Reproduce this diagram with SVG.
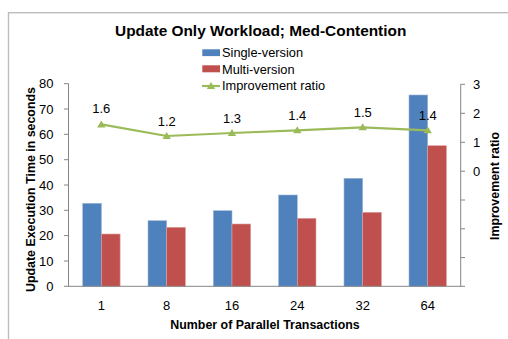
<svg xmlns="http://www.w3.org/2000/svg" width="508" height="339" viewBox="0 0 508 339">
<style>
text{font-family:"Liberation Sans",Arial,sans-serif;fill:#000}
.tk{font-size:13px}
.lg{font-size:12.8px}
.ttl{font-size:15.4px;font-weight:bold}
.at{font-size:12.4px;font-weight:bold}
.ax{stroke:#868686;stroke-width:1;fill:none}
.b{fill:#4f81bd;stroke:#9db7d8;stroke-width:0.6}
.r{fill:#c0504d;stroke:#dca09e;stroke-width:0.6}
.ln{stroke:#9bbb59;stroke-width:2.2;fill:none;stroke-linejoin:round}
.mk{fill:#9bbb59}
</style>
<defs>
<path id="tri" d="M0,-4 L4.2,3 L-4.2,3 Z"/>
</defs>
<rect x="0" y="0" width="508" height="339" fill="#fff"/>
<rect x="8.5" y="12.7" width="520" height="340" fill="#fff" stroke="#bdbdbd" stroke-width="1.4"/>
<g id="title"><text class="ttl" x="260.7" y="36" text-anchor="middle">Update Only Workload; Med-Contention</text></g>
<g id="legend">
<rect x="202.3" y="49.3" width="17.7" height="6.8" fill="#4f81bd"/>
<text class="lg" x="222" y="57.3">Single-version</text>
<rect x="202.3" y="65.3" width="17.7" height="7" fill="#c0504d"/>
<text class="lg" x="222" y="73.5">Multi-version</text>
<line x1="202" y1="86" x2="220" y2="86" class="ln"/>
<use href="#tri" x="211" y="86" class="mk"/>
<text class="lg" x="222" y="89.7">Improvement ratio</text>
</g>
<g id="bars">
<rect class="b" x="82.7" y="203.3" width="18.7" height="83"/>
<rect class="r" x="101.4" y="234" width="18.7" height="52.3"/>
<rect class="b" x="148" y="220.7" width="18.7" height="65.6"/>
<rect class="r" x="166.7" y="227.3" width="18.7" height="59"/>
<rect class="b" x="213.3" y="210.7" width="18.7" height="75.6"/>
<rect class="r" x="232" y="224" width="18.7" height="62.3"/>
<rect class="b" x="278.6" y="195" width="18.7" height="91.3"/>
<rect class="r" x="297.3" y="218.3" width="18.7" height="68"/>
<rect class="b" x="344" y="178.3" width="18.7" height="108"/>
<rect class="r" x="362.7" y="212.3" width="18.7" height="74"/>
<rect class="b" x="409" y="95" width="18.7" height="191.3"/>
<rect class="r" x="427.7" y="145.7" width="18.7" height="140.6"/>
</g>
<g id="axes">
<path class="ax" d="M68.5,83.7 V286.3 M64,286.3 H465 M64,83.7 H68.5 M64,109 H68.5 M64,134.3 H68.5 M64,159.7 H68.5 M64,185 H68.5 M64,210.3 H68.5 M64,235.6 H68.5 M64,261 H68.5"/>
<path class="ax" d="M460.7,84.3 V286.3 M460.7,84.3 H465 M460.7,113.3 H465 M460.7,142.3 H465 M460.7,171.2 H465 M460.7,200 H465 M460.7,228.8 H465 M460.7,257.6 H465"/>
<g class="tk" text-anchor="end">
<text x="53.5" y="88.4">80</text>
<text x="53.5" y="113.7">70</text>
<text x="53.5" y="139">60</text>
<text x="53.5" y="164.4">50</text>
<text x="53.5" y="189.7">40</text>
<text x="53.5" y="215">30</text>
<text x="53.5" y="240.3">20</text>
<text x="53.5" y="265.7">10</text>
<text x="53.5" y="291">0</text>
</g>
<g class="tk">
<text x="473" y="89">3</text>
<text x="473" y="118">2</text>
<text x="473" y="147">1</text>
<text x="473" y="175.9">0</text>
</g>
<g class="tk" text-anchor="middle">
<text x="101.3" y="309.5">1</text>
<text x="166.7" y="309.5">8</text>
<text x="232" y="309.5">16</text>
<text x="297.3" y="309.5">24</text>
<text x="362.7" y="309.5">32</text>
<text x="427.7" y="309.5">64</text>
</g>
<text class="at" x="265" y="329" text-anchor="middle">Number of Parallel Transactions</text>
<text class="at" transform="translate(34.5,189.5) rotate(-90)" text-anchor="middle">Update Execution Time in seconds</text>
<text class="at" transform="translate(498.5,186) rotate(-90)" text-anchor="middle">Improvement ratio</text>
</g>
<g id="connectors">
<polyline class="ln" points="101.3,124.4 166.7,136 232,133 297.3,130.3 362.7,127.3 427.7,130.3"/>
<use href="#tri" x="101.3" y="124.4" class="mk"/>
<use href="#tri" x="166.7" y="136" class="mk"/>
<use href="#tri" x="232" y="133" class="mk"/>
<use href="#tri" x="297.3" y="130.3" class="mk"/>
<use href="#tri" x="362.7" y="127.3" class="mk"/>
<use href="#tri" x="427.7" y="130.3" class="mk"/>
</g>
<g id="data-labels" class="tk" text-anchor="middle">
<text x="101.3" y="113.3">1.6</text>
<text x="166.7" y="126">1.2</text>
<text x="232" y="123">1.3</text>
<text x="297.3" y="120">1.4</text>
<text x="362.7" y="117">1.5</text>
<text x="427.7" y="120">1.4</text>
</g>
</svg>
